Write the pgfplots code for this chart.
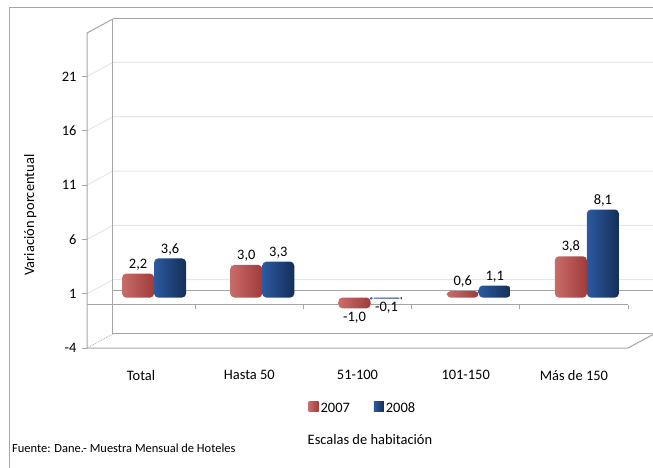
\documentclass[border=0pt]{standalone}
\usepackage{fontspec}
\setmainfont{Carlito}
\usepackage{pgfplots}
\pgfplotsset{compat=1.18}

\definecolor{wall}{HTML}{A6A6A6}
\definecolor{gridc}{HTML}{E6E6E6}
\definecolor{redA}{HTML}{A03C3A}
\definecolor{redB}{HTML}{F8D8D8}
\definecolor{redC}{HTML}{C86C6A}
\definecolor{bluA}{HTML}{142E57}
\definecolor{bluB}{HTML}{7AA8E4}
\definecolor{bluC}{HTML}{2C5AA0}

\newcommand{\chfont}{\fontsize{14.5}{17}\selectfont}

\pgfplotsset{
  redbar/.style={ybar, bar width=32bp, bar shift=-16bp, xshift=13bp, yshift=7bp, draw=none,
     left color=redC, middle color=redB, right color=redA, rounded corners=4bp,
     every node near coord/.append style={xshift=-16bp}},
  blubar/.style={ybar, bar width=32bp, bar shift=16bp, xshift=13bp, yshift=7bp, draw=none,
     left color=bluC, middle color=bluB, right color=bluA, rounded corners=4bp,
     every node near coord/.append style={xshift=16bp}},
}

\begin{document}
\begin{tikzpicture}
\useasboundingbox (0bp,0bp) rectangle (653bp,468bp);
\clip (0bp,0bp) rectangle (653bp,468bp);
\draw[wall, line width=1bp] (9.5bp,-2bp) -- (9.5bp,460.5bp) -- (660bp,460.5bp);
\node[anchor=west, font=\fontsize{12.5}{14}\selectfont, inner sep=0pt] at (12bp,20bp) {Fuente: Dane.- Muestra Mensual de Hoteles};
\begin{axis}[
  at={(87bp,120bp)}, anchor=south west,
  scale only axis, width=541bp, height=315bp,
  xmin=-0.5, xmax=4.5, ymin=-4, ymax=25,
  clip=false,
  axis line style={draw=none},
  tick style={draw=none},
  xtick={0,...,4},
  xticklabels={Total, Hasta 50, 51-100, 101-150, Más de 150},
  ytick={-4,1,6,11,16,21},
  /pgf/number format/assume math mode=true,
  ticklabel style={font=\chfont},
  yticklabel style={xshift=-7bp},
  xticklabel style={yshift=-19bp},
  nodes near coords,
  every node near coord/.append style={font=\chfont, /pgf/number format/assume math mode=true,
     /pgf/number format/use comma, /pgf/number format/fixed, /pgf/number format/fixed zerofill, /pgf/number format/precision=1},
  legend columns=2,
  legend style={draw=none, fill=none, font=\chfont, at={(0.51,-0.193)}, anchor=center,
     /tikz/every even column/.append style={column sep=22bp}},
  legend image code/.code={\path[#1, sharp corners] (0bp,-10bp) rectangle (10bp,0bp);},
]
% grid lines (side wall + back wall)
\foreach \g in {1,6,11,16,21} {
  \edef\temp{\noexpand\draw[gridc, line width=1bp] (axis cs:-0.5,\g) -- (axis cs:-0.26,\g+1.29) -- (axis cs:5,\g+1.29);}
  \temp
}
% walls
\draw[wall, line width=1bp] (axis cs:-0.26,-2.71) -- (axis cs:-0.26,26.29);
\draw[wall, line width=1bp] (axis cs:-0.26,26.29) -- (axis cs:5,26.29);
\draw[wall, line width=1bp] (axis cs:-0.26,-2.71) -- (axis cs:5,-2.71);
\draw[wall, line width=1bp] (axis cs:-0.26,26.29) -- (axis cs:-0.5,25) -- (axis cs:-0.5,-4) -- (axis cs:4.5,-4) -- (axis cs:4.74,-2.71);
\draw[wall, line width=0.8bp, densely dotted] (axis cs:-0.5,-4) -- (axis cs:-0.26,-2.71);
% floor at 0
\draw[wall, line width=1bp] (axis cs:-0.26,1.29) -- (axis cs:5,1.29);
\draw[wall, line width=1bp] (axis cs:-0.5,0) -- (axis cs:4.5,0);
\foreach \t in {0.5,1.5,2.5,3.5,4.5} {
  \edef\temp{\noexpand\draw[wall, line width=1bp] (axis cs:\t,0) -- ++(0bp,-4bp);}
  \temp
}
\foreach \t in {-4,1,6,11,16,21} {
  \edef\temp{\noexpand\draw[wall, line width=1bp] (axis cs:-0.5,\t) -- ++(-5bp,0bp);}
  \temp
}
% 2007
\addplot[redbar] coordinates {(0,2.2)};
\addplot[redbar, forget plot] coordinates {(1,3.0)};
\addplot[redbar, forget plot] coordinates {(2,-1.0)};
\addplot[redbar, forget plot] coordinates {(3,0.6)};
\addplot[redbar, forget plot] coordinates {(4,3.8)};
% 2008
\addplot[blubar] coordinates {(0,3.6)};
\addplot[blubar, forget plot] coordinates {(1,3.3)};
\addplot[blubar, forget plot] coordinates {(2,-0.1)};
\addplot[blubar, forget plot] coordinates {(3,1.1)};
\addplot[blubar, forget plot] coordinates {(4,8.1)};
\legend{2007,2008}
\node[rotate=90, font=\chfont] at (rel axis cs:-0.105,0.422) {Variación porcentual};
\node[font=\chfont] at (rel axis cs:0.523,-0.292) {Escalas de habitación};
\end{axis}
\end{tikzpicture}
\end{document}
